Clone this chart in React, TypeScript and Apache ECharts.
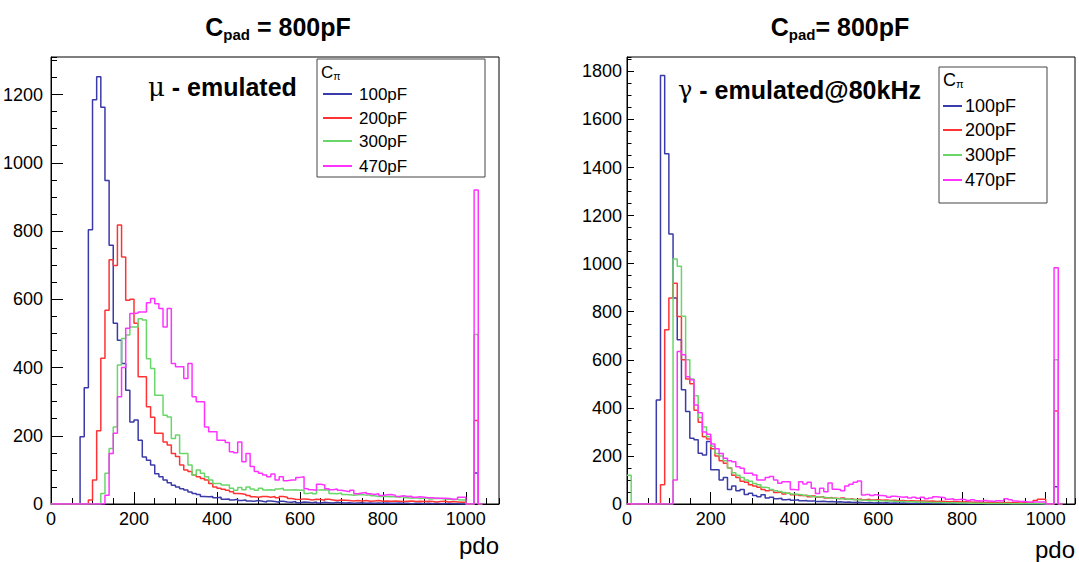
import { useEffect, useRef } from "react";
import * as echarts from "echarts";

const BIN = 10;
const X_TICKS = [0, 200, 400, 600, 800, 1000];
const LEGEND_LABELS = ["100pF", "200pF", "300pF", "470pF"];
const COLORS = ["#3a3aa8", "#ff3333", "#6ad66a", "#ff33ff"];

// Left panel: mu - emulated (bin width 10, starting at 0)
const muB = [0,0,0,0,0,0,0,197,341,804,1185,1252,1163,948,758,530,480,412,333,240,246,187,138,128,114,89,80,70,62,55,50,45,41,35,31,28,22,21,22,18,20,14,15,12,14,10,12,9,8,10,8,6,9,7,5,8,6,5,7,4,6,5,4,6,3,5,4,3,5,4,3,4,2,3,4,2,3,2,3,2,3,2,2,3,2,2,1,2,2,1,2,1,2,1,1,2,1,1,0,0,0,0,91,0];
const muR = [0,0,0,0,0,0,0,0,0,12,70,215,427,568,716,699,818,724,597,600,530,373,373,285,254,207,207,182,173,148,139,114,100,95,85,80,75,70,60,50,46,43,40,36,31,30,28,25,21,20,22,22,20,22,18,22,20,16,14,13,15,14,12,14,13,11,14,12,10,12,11,10,9,10,9,10,8,9,10,8,9,8,9,8,7,8,9,7,8,7,8,7,6,7,8,6,7,6,5,5,0,0,245,0];
const muG = [0,0,0,0,0,0,0,0,0,0,0,0,31,90,163,226,407,485,495,519,519,543,539,426,397,319,319,260,255,192,202,148,148,114,85,100,90,80,70,60,60,56,56,46,40,48,42,50,44,40,46,41,42,40,44,46,41,41,42,40,41,31,33,30,41,42,40,31,30,32,28,27,26,27,28,26,27,24,22,23,22,21,22,20,22,18,17,18,16,17,18,15,17,16,15,14,13,13,12,12,0,0,497,0];
const muM = [0,0,0,0,0,0,0,0,0,0,0,0,0,26,148,207,314,400,515,558,560,563,563,590,602,587,573,519,573,412,402,402,368,412,314,300,300,226,212,212,187,187,180,153,150,182,124,148,110,95,90,85,80,88,70,80,68,70,70,78,80,45,42,40,58,56,45,42,44,40,38,36,40,30,32,34,30,28,30,25,27,28,26,22,24,22,23,20,21,20,18,18,17,17,17,16,14,15,20,20,0,0,920,0];

// Right panel: gamma - emulated@80kHz
const gaB = [0,0,0,0,0,0,0,433,1783,1457,1124,857,683,475,385,274,267,211,204,260,142,142,100,110,60,75,55,60,40,45,35,30,38,25,28,22,24,18,20,16,18,14,15,12,13,10,11,9,10,8,9,7,8,6,7,6,5,6,4,5,4,5,3,4,3,4,3,2,3,2,3,2,2,3,2,2,1,2,2,1,2,1,1,2,1,1,1,1,1,1,1,1,1,1,1,1,1,1,0,0,0,0,72,0];
const gaR = [0,0,0,0,0,0,0,0,80,725,857,919,780,600,520,500,390,340,280,270,230,200,180,170,150,120,110,95,90,80,75,70,60,55,58,48,50,42,45,38,40,35,36,30,33,28,30,25,27,24,22,25,20,22,19,21,18,20,17,18,16,17,15,16,14,15,13,14,12,13,12,11,12,10,11,10,9,10,9,8,9,8,7,8,7,6,7,6,6,5,6,5,5,4,5,4,4,15,20,20,0,0,387,0];
const gaG = [120,0,0,0,0,0,0,0,0,0,0,1019,989,781,600,520,450,360,320,280,240,210,200,180,150,130,120,110,100,95,85,80,70,68,60,55,52,48,45,42,40,38,35,33,30,29,28,26,25,23,22,21,20,19,18,17,16,15,15,14,13,12,12,11,10,10,9,9,8,8,7,7,6,6,6,5,5,5,4,4,4,3,3,3,3,2,2,2,2,2,2,1,1,1,1,1,1,1,1,0,0,0,600,0];
const gaM = [0,0,0,0,0,0,0,0,0,0,0,100,635,621,530,517,412,380,300,290,250,230,210,190,180,176,155,149,128,128,121,100,100,110,114,100,86,93,93,60,58,93,83,90,66,44,66,51,87,61,60,55,75,82,90,96,37,40,35,38,35,33,28,32,30,28,30,25,28,24,28,22,25,30,28,26,20,22,18,20,18,15,18,14,12,15,12,10,14,12,22,18,12,10,10,8,8,8,8,8,0,0,983,0];

const LEFT = { left: 51, top: 57, width: 448, height: 447, xMax: 1080, yMax: 1310, yTick: 12, yMinor: 6, yMargin: 8 };
const RIGHT = { left: 627, top: 57, width: 448, height: 447, xMax: 1070, yMax: 1860, yTick: 7, yMinor: 4.5, yMargin: 5 };

function hist(vals: number[]) {
  const d: number[][] = vals.map((v, i) => [i * BIN, v]);
  d.push([vals.length * BIN, 0]);
  return d;
}

const FONT = "Liberation Sans";

function axesFor(gi: number, P: any) {
  const lab = (v: number) => (v % 200 === 0 ? String(v) : "");
  const labX = (v: number) => (X_TICKS.includes(v) ? String(v) : "");
  const xMajor = {
    gridIndex: gi, type: "value", position: "bottom", min: 0, max: P.xMax, interval: 200,
    axisLine: { show: true, lineStyle: { color: "#000", width: 1 } },
    axisTick: { show: true, inside: true, length: 12, lineStyle: { color: "#000" } },
    axisLabel: { show: true, formatter: labX, color: "#000", fontSize: 18, fontFamily: FONT, margin: 6, showMaxLabel: false },
    splitLine: { show: false },
  };
  const xMinor = {
    gridIndex: gi, type: "value", position: "bottom", min: 0, max: P.xMax, interval: 50,
    axisLine: { show: false },
    axisTick: { show: true, inside: true, length: 6, lineStyle: { color: "#000" } },
    axisLabel: { show: false }, splitLine: { show: false },
  };
  const yMajor = {
    gridIndex: gi, type: "value", position: "left", min: 0, max: P.yMax, interval: 200,
    axisLine: { show: true, lineStyle: { color: "#000", width: 1 } },
    axisTick: { show: true, inside: true, length: P.yTick, lineStyle: { color: "#000" } },
    axisLabel: { show: true, formatter: lab, color: "#000", fontSize: 18, fontFamily: FONT, margin: P.yMargin, showMaxLabel: false },
    splitLine: { show: false },
  };
  const yMinor = {
    gridIndex: gi, type: "value", position: "left", min: 0, max: P.yMax, interval: 50,
    axisLine: { show: false },
    axisTick: { show: true, inside: true, length: P.yMinor, lineStyle: { color: "#000" } },
    axisLabel: { show: false }, splitLine: { show: false },
  };
  return { x: [xMajor, xMinor], y: [yMajor, yMinor] };
}

function legend(x: number, y: number, w: number, h: number, rowY: number[], lineX: number[], textX: number, fs: number, cY: number) {
  const els: any[] = [
    { type: "rect", shape: { x, y, width: w, height: h }, style: { fill: "#fff", stroke: "#444", lineWidth: 1 }, z: 100 },
    {
      type: "text", x: x + 4, y: cY, z: 101,
      style: { text: "{c|C}{s|π}", rich: { c: { fontSize: fs, fontFamily: FONT, fill: "#000" }, s: { fontSize: fs * 0.62, fontFamily: FONT, fill: "#000", padding: [fs * 0.45, 0, 0, 0] } }, verticalAlign: "middle" },
    },
  ];
  LEGEND_LABELS.forEach((lbl, i) => {
    els.push({ type: "line", z: 101, shape: { x1: lineX[0], y1: rowY[i], x2: lineX[1], y2: rowY[i] }, style: { stroke: COLORS[i], lineWidth: 2 } });
    els.push({ type: "text", z: 101, x: textX, y: rowY[i], style: { text: lbl, fontSize: fs, fontFamily: FONT, fill: "#000", verticalAlign: "middle" } });
  });
  return els;
}

function title(cx: number, y: number, eqText: string) {
  return {
    type: "text", x: cx, y, z: 50,
    style: {
      text: `{a|C}{s|pad}{a|${eqText}}`,
      align: "center", verticalAlign: "middle",
      rich: {
        a: { fontSize: 25, fontWeight: "bold", fontFamily: FONT, fill: "#000" },
        s: { fontSize: 15, fontWeight: "bold", fontFamily: FONT, fill: "#000", padding: [14, 0, 0, 0] },
      },
    },
  };
}

export default function App() {
  const ref = useRef<HTMLDivElement>(null);
  useEffect(() => {
    if (!ref.current) return;
    const chart = echarts.init(ref.current, null, { renderer: "svg" });
    const a0 = axesFor(0, LEFT);
    const a1 = axesFor(1, RIGHT);
    const leftSets = [muB, muR, muG, muM];
    const rightSets = [gaB, gaR, gaG, gaM];
    const mk = (vals: number[], i: number, xi: number, yi: number) => ({
      type: "line", step: "end", data: hist(vals), xAxisIndex: xi, yAxisIndex: yi,
      showSymbol: false, symbol: "none", silent: true, clip: true,
      lineStyle: { color: COLORS[i], width: 1.5 }, itemStyle: { color: COLORS[i] },
    });
    chart.setOption({
      animation: false,
      backgroundColor: "#fff",
      grid: [
        { left: LEFT.left, top: LEFT.top, width: LEFT.width, height: LEFT.height, show: true, borderColor: "#000", borderWidth: 1, backgroundColor: "transparent" },
        { left: RIGHT.left, top: RIGHT.top, width: RIGHT.width, height: RIGHT.height, show: true, borderColor: "#000", borderWidth: 1, backgroundColor: "transparent" },
      ],
      xAxis: [...a0.x, ...a1.x],
      yAxis: [...a0.y, ...a1.y],
      series: [
        ...leftSets.map((v, i) => mk(v, i, 0, 0)),
        ...rightSets.map((v, i) => mk(v, i, 2, 2)),
      ],
      graphic: [
        title(278, 27, " = 800pF"),
        title(840, 27, "= 800pF"),
        { type: "text", x: 148, y: 87, style: { text: "{g|μ} - emulated", verticalAlign: "middle", fontSize: 25, fontWeight: "bold", fontFamily: FONT, fill: "#000", rich: { g: { fontSize: 26, fontWeight: "normal", fontFamily: "DejaVu Serif", fill: "#000" } } } },
        { type: "text", x: 678, y: 90, style: { text: "{g|γ} - emulated@80kHz", verticalAlign: "middle", fontSize: 25, fontWeight: "bold", fontFamily: FONT, fill: "#000", rich: { g: { fontSize: 24, fontWeight: "normal", fontFamily: "DejaVu Serif", fill: "#000" } } } },
        ...legend(317, 59, 168, 118, [94, 118, 141, 166], [323, 352], 359, 17, 72),
        ...legend(939, 67, 108, 136, [106, 130, 155, 180], [943, 962], 965, 18, 80),
        { type: "text", x: 499, y: 545, style: { text: "pdo", align: "right", verticalAlign: "middle", fontSize: 24, fontFamily: FONT, fill: "#000" } },
        { type: "text", x: 1075, y: 549, style: { text: "pdo", align: "right", verticalAlign: "middle", fontSize: 24, fontFamily: FONT, fill: "#000" } },
      ],
    });
    return () => chart.dispose();
  }, []);
  return <div ref={ref} style={{ position: "absolute", left: 0, top: 0, width: 1079, height: 562 }} />;
}
